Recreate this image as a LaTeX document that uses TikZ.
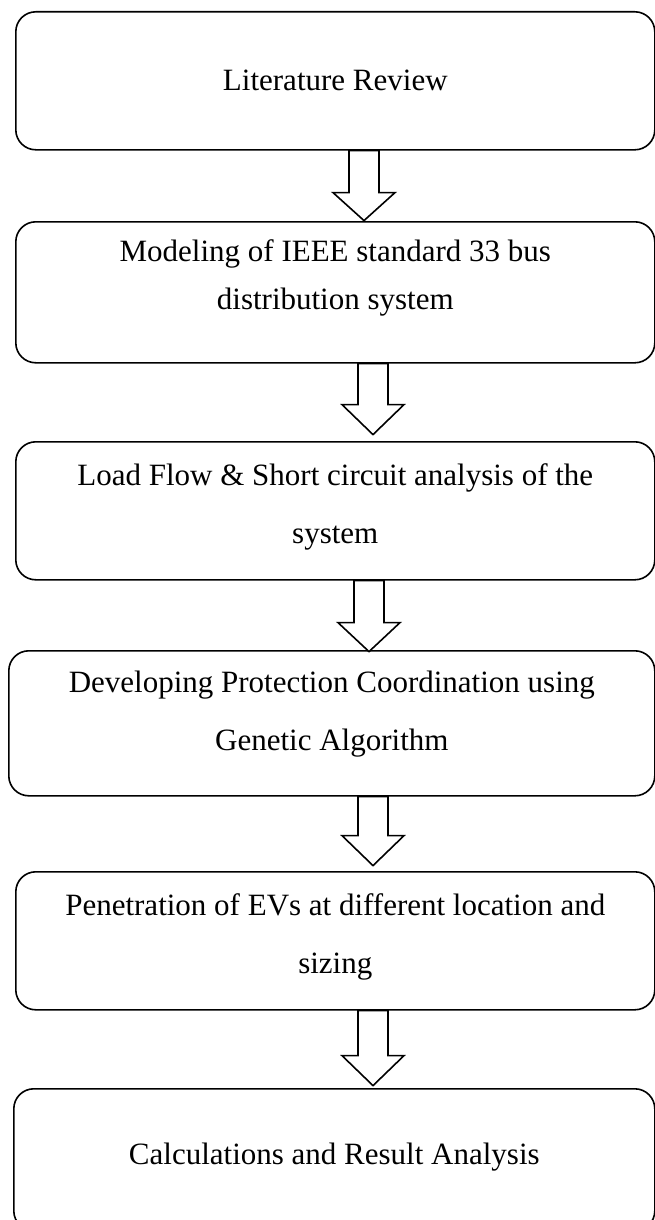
\documentclass[tikz,border=0pt]{standalone}
\usepackage{fontspec}
\setmainfont{Liberation Serif}
\usetikzlibrary{calc}

\tikzset{
  stepbox/.style={draw, line width=1.6pt, rounded corners=20pt, inner sep=0pt, anchor=north west},
  steptext/.style={font=\fontsize{31}{58}\selectfont, align=center, inner sep=0pt},
  tightlines/.style={font=\fontsize{31}{48}\selectfont},
  arrowline/.style={draw, line width=1.6pt, fill=white, line join=miter},
  % hollow block arrow pointing down: #1 = shaft length, #2 = head height
  pics/hollowdown/.style 2 args={code={
    \path[arrowline] (-15,0) -- (-15,#1) -- (-31,#1) -- (0,{#1+#2})
      -- (31,#1) -- (15,#1) -- (15,0) -- cycle;
  }}
}

\begin{document}
\begin{tikzpicture}[x=1pt, y=-1pt]
  \useasboundingbox (0,0) rectangle (655,1220);
  \clip (0,0) rectangle (655,1220);

  % process boxes
  \node[stepbox, minimum width=639pt, minimum height=138pt] (b1) at (15,11) {};
  \node[stepbox, minimum width=639pt, minimum height=141pt] (b2) at (15,221) {};
  \node[stepbox, minimum width=639pt, minimum height=138pt] (b3) at (15,441) {};
  \node[stepbox, minimum width=646pt, minimum height=145pt] (b4) at (8,650) {};
  \node[stepbox, minimum width=639pt, minimum height=138pt] (b5) at (15,871) {};
  \node[stepbox, minimum width=641pt, minimum height=142pt] (b6) at (13,1088) {};

  % box captions
  \node[steptext] (t1) at (b1.center) {Literature Review};
  \node[steptext, tightlines] (t2) at ($(b2.north)+(0,57)$) {Modeling of IEEE standard 33 bus\\distribution system};
  \node[steptext] (t3) at ($(b3.north)+(0,66)$) {Load Flow \& Short circuit analysis of the\\system};
  \node[steptext] (t4) at ($(b4.north)+(0,64)$) {Developing Protection Coordination using\\Genetic Algorithm};
  \node[steptext] (t5) at ($(b5.north)+(0,66)$) {Penetration of EVs at different location and\\sizing};
  \node[steptext] (t6) at ($(b6.north)+(0,69)$) {Calculations and Result Analysis};

  % arrow axes
  \coordinate (c1) at (364,0);
  \coordinate (c2) at (373,0);
  \coordinate (c3) at (369,0);
  \coordinate (c4) at (373,0);
  \coordinate (c5) at (373,0);

  % block arrows between consecutive steps
  \pic at (b1.south -| c1) {hollowdown={42}{28}};
  \pic at (b2.south -| c2) {hollowdown={41}{30}};
  \pic at (b3.south -| c3) {hollowdown={42}{29}};
  \pic at (b4.south -| c4) {hollowdown={39}{30}};
  \pic at (b5.south -| c5) {hollowdown={45}{30}};
\end{tikzpicture}
\end{document}
